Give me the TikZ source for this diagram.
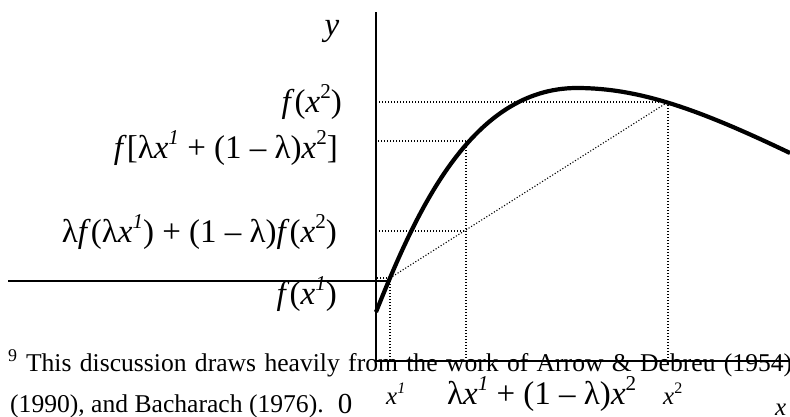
\documentclass[tikz,border=0pt]{standalone}
\usepackage{fontspec}
\setmainfont{Liberation Serif}
\usepackage{tikz}
\usetikzlibrary{positioning}
\newcommand{\hi}[1]{\raisebox{0.42em}{\scalebox{0.64}{#1}}}
\newcommand{\xs}[1]{\textit{x}\hi{#1}}
\newcommand{\fx}[1]{\textit{f}(\xs{#1})}
\newcommand{\lab}{λ}
\newcommand{\one}{\textit{1}}
\newcommand{\mixx}{\lab\xs{\one} + (1 – \lab)\xs{2}}

\begin{document}
\begin{tikzpicture}[x=1pt,y=-1pt,
  axis/.style={line width=1.6pt},
  guide/.style={line width=1.1pt,dash pattern=on 1.1pt off 1.9pt},
  curve/.style={line width=4.2pt,line join=round},
  lbl/.style={inner sep=0pt,font=\fontsize{33}{36}\selectfont},
  tick/.style={inner sep=0pt,font=\fontsize{25}{28}\selectfont},
  note/.style={inner sep=0pt,font=\fontsize{25.6}{30}\selectfont}]
  \clip (0,0) rectangle (790,416);
  \fill[white] (0,0) rectangle (790,416);
  % axes, and the rule above the footnote
  \coordinate (o) at (376,361);
  \coordinate (ytop) at (376,12);
  \coordinate (xend) at (790,361);
  \draw[axis] (ytop) -- (o) -- (xend);
  \coordinate (rl) at (8,281);
  \coordinate (rr) at (390,281);
  \draw[axis] (rl) -- (rr);
  % points on the curve and on the chord
  \coordinate (p1) at (390,278);
  \coordinate (pm) at (466,141);
  \coordinate (p2) at (668,102);
  \coordinate (pc) at (466,231);
  \foreach \p in {p1,pm,p2}{%
    \draw[guide] (\p) -- (\p|-o);
    \draw[guide] (\p) -- (\p-|o);}
  \draw[guide] (p1) -- (p2);
  \draw[guide] (pc-|o) -- (pc);
  \coordinate (c0) at (376,312);
  \coordinate (top) at (577,88);
  \coordinate (c3) at (790,153);
  \draw[curve] (c0) .. controls (415,215) and (470,88) .. (top)
    .. controls (640,88) and (700,110) .. (c3);
  % labels on the axes
  \node[lbl,anchor=base] (ylab) at (332,35) {\textit{y}};
  \node[lbl,anchor=base east] (f2) at (342,112) {\fx{2}};
  \node[lbl,anchor=base east] (fmix) at (338,158) {\textit{f}[\mixx]};
  \node[lbl,anchor=base east] (fchord) at (337,242)
    {\lab\textit{f}(\lab\xs{\one}) + (1 – \lab)\fx{2}};
  \node[lbl,anchor=base east] (f1) at (337,304) {\fx{\one}};
  \node[tick,font=\fontsize{29}{32}\selectfont,anchor=base] (zero) at (345,413) {0};
  \node[tick,anchor=base west] (x1) at (386,404) {\xs{\one}};
  \node[lbl,anchor=base west] (xmix) at (447,404) {\mixx};
  \node[tick,anchor=base west] (x2) at (663,404) {\xs{2}};
  \node[tick,anchor=base west] (xlab) at (775,415) {\textit{x}};
  % the footnote behind the picture
  \node[note,anchor=base west] (fn1) at (8,371)
    {\makebox[784pt][s]{\textsuperscript{9} This discussion draws heavily from the work of Arrow \& Debreu (1954)}};
  \node[note,anchor=base west] (fn2) at (10,412) {(1990), and Bacharach (1976).};
\end{tikzpicture}
\end{document}
